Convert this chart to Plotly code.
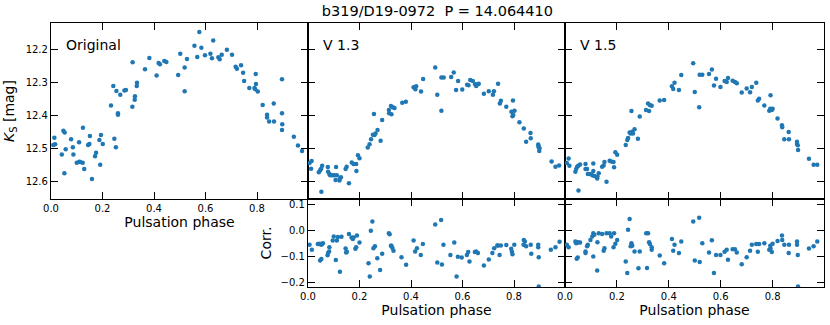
import plotly.graph_objects as go

BLUE = "#1f77b4"
FONT = "DejaVu Sans"

# Original light curve
phase_orig = [0.013, 0.009, 0.016, 0.048, 0.053, 0.042, 0.052, 0.057, 0.078, 0.085,
              0.087, 0.100, 0.109, 0.110, 0.113, 0.123, 0.124, 0.129, 0.144, 0.149,
              0.151, 0.159, 0.171, 0.175, 0.188, 0.191, 0.194, 0.201, 0.233, 0.242,
              0.246, 0.252, 0.254, 0.260, 0.260, 0.269, 0.285, 0.291, 0.316, 0.317,
              0.325, 0.326, 0.333, 0.334, 0.365, 0.382, 0.410, 0.418, 0.423, 0.440,
              0.448, 0.494, 0.502, 0.519, 0.519, 0.528, 0.557, 0.568, 0.576, 0.584,
              0.598, 0.619, 0.625, 0.630, 0.650, 0.655, 0.663, 0.683, 0.703, 0.717,
              0.722, 0.738, 0.746, 0.750, 0.770, 0.790, 0.793, 0.795, 0.796, 0.803,
              0.822, 0.839, 0.839, 0.847, 0.865, 0.866, 0.897, 0.897, 0.898, 0.897,
              0.943, 0.959, 0.975]
mag_orig = [12.468, 12.490, 12.488, 12.447, 12.452, 12.519, 12.576, 12.503, 12.473, 12.497,
            12.519, 12.544, 12.482, 12.541, 12.542, 12.544, 12.438, 12.563, 12.490, 12.487,
            12.463, 12.593, 12.524, 12.514, 12.475, 12.550, 12.460, 12.487, 12.370, 12.311,
            12.471, 12.497, 12.326, 12.394, 12.398, 12.338, 12.325, 12.323, 12.374, 12.239,
            12.353, 12.342, 12.311, 12.301, 12.260, 12.226, 12.279, 12.241, 12.245, 12.235,
            12.238, 12.278, 12.213, 12.255, 12.327, 12.229, 12.189, 12.223, 12.147, 12.195,
            12.218, 12.213, 12.227, 12.173, 12.224, 12.230, 12.216, 12.201, 12.216, 12.253,
            12.259, 12.248, 12.271, 12.296, 12.317, 12.317, 12.321, 12.275, 12.305, 12.328,
            12.369, 12.398, 12.407, 12.419, 12.364, 12.419, 12.291, 12.394, 12.427, 12.445,
            12.465, 12.492, 12.508]

# V 1.3 light curve
phase_v13 = [0.006, 0.014, 0.012, 0.042, 0.047, 0.051, 0.055, 0.052, 0.077, 0.078,
             0.083, 0.086, 0.094, 0.102, 0.109, 0.107, 0.112, 0.122, 0.124, 0.128,
             0.146, 0.150, 0.159, 0.170, 0.177, 0.187, 0.188, 0.194, 0.200, 0.232,
             0.239, 0.245, 0.252, 0.256, 0.258, 0.262, 0.270, 0.282, 0.288, 0.314,
             0.315, 0.322, 0.324, 0.329, 0.336, 0.366, 0.380, 0.410, 0.417, 0.420,
             0.439, 0.447, 0.494, 0.502, 0.518, 0.518, 0.527, 0.556, 0.566, 0.575,
             0.583, 0.599, 0.618, 0.623, 0.630, 0.640, 0.649, 0.653, 0.660, 0.663,
             0.683, 0.702, 0.718, 0.722, 0.738, 0.745, 0.749, 0.770, 0.790, 0.794,
             0.796, 0.797, 0.802, 0.821, 0.838, 0.847, 0.864, 0.865, 0.894, 0.895,
             0.896, 0.898, 0.899, 0.946, 0.961, 0.975]
mag_v13 = [12.545, 12.539, 12.562, 12.573, 12.567, 12.562, 12.553, 12.632, 12.557, 12.571,
           12.578, 12.582, 12.582, 12.582, 12.557, 12.596, 12.582, 12.598, 12.592, 12.588,
           12.563, 12.556, 12.606, 12.543, 12.548, 12.548, 12.569, 12.521, 12.530, 12.498,
           12.488, 12.473, 12.459, 12.396, 12.460, 12.455, 12.445, 12.477, 12.414, 12.384,
           12.394, 12.372, 12.397, 12.376, 12.378, 12.362, 12.359, 12.315, 12.321, 12.312,
           12.328, 12.290, 12.255, 12.338, 12.386, 12.285, 12.285, 12.284, 12.270, 12.323,
           12.296, 12.322, 12.307, 12.309, 12.293, 12.296, 12.306, 12.311, 12.306, 12.304,
           12.335, 12.327, 12.338, 12.327, 12.304, 12.364, 12.356, 12.374, 12.389, 12.403,
           12.355, 12.399, 12.386, 12.421, 12.440, 12.480, 12.454, 12.470, 12.489, 12.493,
           12.497, 12.508, 12.500, 12.540, 12.556, 12.552]

# V 1.5 light curve
phase_v15 = [0.007, 0.014, 0.017, 0.040, 0.043, 0.047, 0.051, 0.058, 0.052, 0.079,
             0.079, 0.085, 0.088, 0.097, 0.105, 0.109, 0.109, 0.113, 0.124, 0.125,
             0.130, 0.143, 0.149, 0.152, 0.160, 0.172, 0.178, 0.187, 0.189, 0.194,
             0.201, 0.234, 0.240, 0.243, 0.249, 0.253, 0.256, 0.259, 0.262, 0.268,
             0.281, 0.288, 0.312, 0.320, 0.324, 0.327, 0.334, 0.365, 0.382, 0.412,
             0.417, 0.422, 0.439, 0.448, 0.494, 0.500, 0.517, 0.519, 0.529, 0.555,
             0.566, 0.574, 0.582, 0.599, 0.615, 0.623, 0.628, 0.646, 0.655, 0.662,
             0.681, 0.700, 0.713, 0.720, 0.737, 0.743, 0.748, 0.768, 0.787, 0.791,
             0.792, 0.797, 0.800, 0.819, 0.836, 0.837, 0.845, 0.862, 0.863, 0.894,
             0.894, 0.897, 0.898, 0.940, 0.958, 0.972]
mag_v15 = [12.545, 12.531, 12.553, 12.571, 12.563, 12.556, 12.553, 12.549, 12.628, 12.548,
           12.563, 12.563, 12.578, 12.578, 12.582, 12.546, 12.569, 12.584, 12.592, 12.586,
           12.576, 12.556, 12.552, 12.542, 12.602, 12.538, 12.540, 12.542, 12.558, 12.512,
           12.520, 12.490, 12.475, 12.469, 12.452, 12.455, 12.387, 12.450, 12.455, 12.442,
           12.471, 12.404, 12.384, 12.364, 12.387, 12.369, 12.371, 12.355, 12.354, 12.312,
           12.320, 12.301, 12.323, 12.278, 12.242, 12.329, 12.376, 12.277, 12.277, 12.275,
           12.261, 12.310, 12.289, 12.314, 12.296, 12.299, 12.287, 12.295, 12.299, 12.303,
           12.331, 12.319, 12.330, 12.314, 12.301, 12.355, 12.350, 12.370, 12.386, 12.380,
           12.339, 12.384, 12.380, 12.410, 12.430, 12.436, 12.473, 12.451, 12.473, 12.480,
           12.487, 12.491, 12.505, 12.532, 12.550, 12.550]

# corrections
phase_c13 = [0.006, 0.015, 0.038, 0.045, 0.047, 0.051, 0.052, 0.055, 0.058, 0.076,
             0.078, 0.082, 0.083, 0.096, 0.100, 0.108, 0.112, 0.116, 0.124, 0.130,
             0.146, 0.148, 0.151, 0.159, 0.169, 0.174, 0.177, 0.184, 0.187, 0.190,
             0.200, 0.235, 0.240, 0.244, 0.250, 0.254, 0.260, 0.269, 0.280, 0.288,
             0.314, 0.317, 0.322, 0.324, 0.328, 0.332, 0.363, 0.381, 0.410, 0.416,
             0.423, 0.438, 0.446, 0.494, 0.502, 0.517, 0.520, 0.526, 0.553, 0.568,
             0.577, 0.582, 0.597, 0.617, 0.622, 0.627, 0.648, 0.653, 0.660, 0.683,
             0.702, 0.716, 0.723, 0.735, 0.738, 0.744, 0.749, 0.770, 0.789, 0.792,
             0.794, 0.801, 0.837, 0.838, 0.842, 0.847, 0.865, 0.867, 0.894, 0.894,
             0.896, 0.896, 0.943, 0.961, 0.977]
corr_v13 = [-0.054, -0.073, -0.051, -0.050, -0.115, -0.054, -0.109, -0.051, -0.048, -0.094,
            -0.086, -0.080, -0.063, -0.037, -0.022, -0.113, -0.037, -0.024, -0.158, -0.023,
            -0.068, -0.084, -0.081, -0.012, -0.026, -0.032, -0.026, -0.069, -0.063, -0.018,
            -0.045, -0.125, -0.176, 0.000, 0.036, -0.067, -0.060, -0.106, -0.151, -0.089,
            -0.009, -0.013, -0.058, -0.058, -0.066, -0.077, -0.102, -0.131, -0.037, -0.080,
            -0.067, -0.093, -0.051, 0.024, -0.122, 0.042, -0.130, -0.054, -0.093, -0.045,
            -0.176, -0.100, -0.103, -0.093, -0.082, -0.118, -0.082, -0.080, -0.086, -0.134,
            -0.111, -0.086, -0.067, -0.057, -0.057, -0.093, -0.057, -0.055, -0.069, -0.081,
            -0.090, -0.054, -0.054, -0.035, -0.041, -0.060, -0.054, -0.089, -0.054, -0.063,
            -0.102, -0.215, -0.073, -0.063, -0.042]

phase_c15 = [0.007, 0.014, 0.040, 0.043, 0.047, 0.051, 0.058, 0.045, 0.049, 0.079,
             0.079, 0.085, 0.088, 0.098, 0.105, 0.109, 0.109, 0.113, 0.124, 0.125,
             0.130, 0.143, 0.149, 0.152, 0.160, 0.172, 0.178, 0.187, 0.189, 0.194,
             0.201, 0.234, 0.240, 0.243, 0.249, 0.253, 0.256, 0.259, 0.268, 0.283,
             0.288, 0.313, 0.316, 0.320, 0.324, 0.327, 0.334, 0.334, 0.365, 0.382,
             0.412, 0.417, 0.422, 0.439, 0.448, 0.494, 0.500, 0.517, 0.519, 0.529,
             0.555, 0.566, 0.574, 0.582, 0.599, 0.615, 0.623, 0.628, 0.646, 0.655,
             0.662, 0.681, 0.700, 0.713, 0.720, 0.737, 0.743, 0.748, 0.768, 0.787,
             0.791, 0.792, 0.797, 0.800, 0.819, 0.836, 0.837, 0.845, 0.862, 0.863,
             0.894, 0.894, 0.897, 0.898, 0.940, 0.958, 0.972]
corr_v15 = [-0.054, -0.063, -0.041, -0.048, -0.045, -0.044, -0.045, -0.108, -0.103, -0.086,
            -0.080, -0.060, -0.054, -0.035, -0.022, -0.009, -0.099, -0.015, -0.153, -0.044,
            -0.009, -0.012, -0.077, -0.067, -0.009, -0.009, -0.022, -0.063, -0.009, -0.050,
            -0.035, -0.118, -0.163, 0.004, 0.046, -0.060, -0.048, -0.058, -0.080, -0.145,
            -0.080, -0.009, -0.144, -0.009, -0.044, -0.051, -0.073, -0.063, -0.095, -0.125,
            -0.032, -0.077, -0.054, -0.086, -0.041, 0.036, -0.115, 0.051, -0.120, -0.048,
            -0.084, -0.036, -0.163, -0.093, -0.093, -0.081, -0.073, -0.112, -0.071, -0.071,
            -0.084, -0.129, -0.102, -0.077, -0.054, -0.051, -0.081, -0.051, -0.048, -0.073,
            -0.058, -0.068, -0.082, -0.050, -0.039, -0.018, -0.035, -0.054, -0.086, -0.054,
            -0.041, -0.054, -0.093, -0.215, -0.068, -0.060, -0.041]

mag_ticks = [12.2, 12.3, 12.4, 12.5, 12.6]
corr_ticks = [-0.2, -0.1, 0.0, 0.1]
phase_ticks = [0.0, 0.2, 0.4, 0.6, 0.8]

W_TOP = [0, 257 / 773]
W_MID = [257 / 773, 514 / 773]
W_RIGHT = [514 / 773, 1]
H_TOP = [88 / 264, 1]
H_BOT = [0, 88 / 264]

fig = go.Figure()

panels = [
    (phase_orig, mag_orig, "x", "y"),
    (phase_v13, mag_v13, "x2", "y2"),
    (phase_v15, mag_v15, "x3", "y3"),
    (phase_c13, corr_v13, "x4", "y4"),
    (phase_c15, corr_v15, "x5", "y5"),
]
for px_, py_, xa, ya in panels:
    fig.add_trace(go.Scatter(x=px_, y=py_, xaxis=xa, yaxis=ya, mode="markers",
                             marker=dict(color=BLUE, size=4.5, line=dict(width=0)),
                             showlegend=False, hoverinfo="skip"))

axis_common = dict(showline=True, linecolor="black", linewidth=1.2, mirror="allticks",
                   ticks="inside", ticklen=7, tickwidth=1.2, tickcolor="black",
                   showgrid=False, zeroline=False, automargin=False,
                   tickfont=dict(family=FONT, size=10, color="black"))

title_font = dict(family=FONT, size=14, color="black")

fig.update_layout(
    width=830, height=325,
    margin=dict(l=51, r=6, t=23, b=38),
    plot_bgcolor="white", paper_bgcolor="white",
    font=dict(family=FONT, color="black"),
    title=dict(text="b319/D19-0972  P = 14.064410", x=0.527, xanchor="center",
               y=0.966, yanchor="middle", font=dict(family=FONT, size=14.5, color="black")),
    xaxis=dict(domain=W_TOP, anchor="y", range=[0, 0.998], tickvals=phase_ticks,
               ticktext=["0.0", "0.2", "0.4", "0.6", "0.8"],
               title=dict(text="Pulsation phase", font=title_font, standoff=2), **axis_common),
    yaxis=dict(domain=H_TOP, anchor="x", range=[12.654, 12.12], tickvals=mag_ticks,
               ticktext=["12.2", "12.3", "12.4", "12.5", "12.6"],
               title=dict(text="<i>K</i><sub>S</sub> [mag]", font=title_font, standoff=7), **axis_common),
    xaxis2=dict(domain=W_MID, anchor="y2", range=[0, 0.998], tickvals=phase_ticks,
                showticklabels=False, **axis_common),
    yaxis2=dict(domain=H_TOP, anchor="x2", range=[12.654, 12.12], tickvals=mag_ticks,
                showticklabels=False, **axis_common),
    xaxis3=dict(domain=W_RIGHT, anchor="y3", range=[0, 0.998], tickvals=phase_ticks,
                showticklabels=False, **axis_common),
    yaxis3=dict(domain=H_TOP, anchor="x3", range=[12.654, 12.12], tickvals=mag_ticks,
                showticklabels=False, **axis_common),
    xaxis4=dict(domain=W_MID, anchor="y4", range=[0, 0.998], tickvals=phase_ticks,
                ticktext=["0.0", "0.2", "0.4", "0.6", "0.8"],
                title=dict(text="Pulsation phase", font=title_font, standoff=2), **axis_common),
    yaxis4=dict(domain=H_BOT, anchor="x4", range=[-0.217, 0.123], tickvals=corr_ticks,
                ticktext=["\u22120.2", "\u22120.1", "0.0", "0.1"],
                title=dict(text="Corr.", font=title_font, standoff=5), **axis_common),
    xaxis5=dict(domain=W_RIGHT, anchor="y5", range=[0, 0.998], tickvals=phase_ticks,
                ticktext=["0.0", "0.2", "0.4", "0.6", "0.8"],
                title=dict(text="Pulsation phase", font=title_font, standoff=2), **axis_common),
    yaxis5=dict(domain=H_BOT, anchor="x5", range=[-0.217, 0.123], tickvals=corr_ticks,
                showticklabels=False, **axis_common),
)

for label, xr, yr in [("Original", "x", "y"), ("V 1.3", "x2", "y2"), ("V 1.5", "x3", "y3")]:
    fig.add_annotation(text=label, xref=xr + " domain", yref=yr + " domain",
                       x=0.05, y=0.875, xanchor="left", yanchor="middle",
                       showarrow=False, font=dict(family=FONT, size=14, color="black"))

# page body has a default 8px margin; drop it so the figure sits at the corner
fig.write_html("out.html", config={"displayModeBar": False},
               post_script="document.body.style.margin='0px';")
